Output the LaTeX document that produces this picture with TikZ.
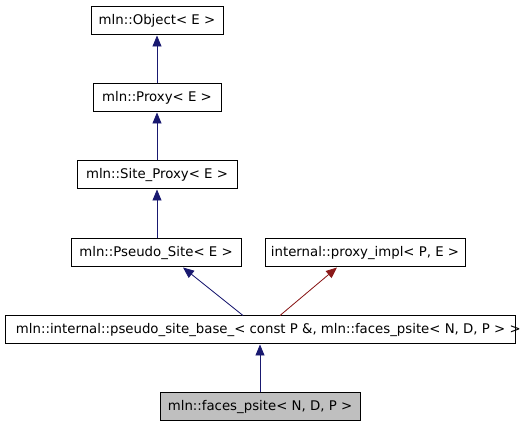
\documentclass[tikz,border=0pt]{standalone}
\usepackage{fontspec}
\setmainfont{DejaVu Sans}
\usetikzlibrary{arrows.meta}
\tikzset{>={Triangle[width=9pt,length=11pt]}}
\definecolor{edgeblue}{HTML}{191970}
\definecolor{edgered}{HTML}{8B1A1A}
\definecolor{boxgray}{HTML}{BFBFBF}
\tikzset{classbox/.style={draw=black, fill=white, line width=1pt,
    minimum height=28pt, inner sep=0pt}}
\tikzset{inherit/.style={->, line width=0.8pt, draw=edgeblue, fill=edgeblue}}
\tikzset{usage/.style={->, line width=0.8pt, draw=edgered, fill=edgered}}

\begin{document}
\begin{tikzpicture}[x=1pt,y=1pt]

\fontsize{13.3}{15}\selectfont
\useasboundingbox (0,0) rectangle (520,427); %% page size

%% class boxes
\node[classbox, minimum width=132pt] (object) at (157,406) {mln::Object< E >};
\node[classbox, minimum width=128pt] (proxy) at (157,329) {mln::Proxy< E >};
\node[classbox, minimum width=160pt] (siteproxy) at (157,252) {mln::Site\_Proxy< E >};
\node[classbox, minimum width=170pt] (pseudosite) at (156,174) {mln::Pseudo\_Site< E >};
\node[classbox, minimum width=200pt] (proxyimpl) at (365,174) {internal::proxy\_impl< P, E >};
\node[classbox, inner xsep=11pt] (base) at (260,97)
{\makebox[488pt][l]{mln::internal::pseudo\_site\_base\_< const P \&, mln::faces\_psite< N, D, P > >}};
\node[classbox, fill=boxgray, minimum width=200pt] (faces) at (260,20) {mln::faces\_psite< N, D, P >};

%% inheritance
\draw[inherit] (proxy) -- (object);
\draw[inherit] (siteproxy) -- (proxy);
\draw[inherit] ([xshift=1pt]pseudosite.north) -- (siteproxy);
\draw[inherit] ([xshift=-17pt]base.north) -- ([xshift=27pt]pseudosite.south);
\draw[usage] ([xshift=20pt]base.north) -- ([xshift=-28pt]proxyimpl.south);
\draw[inherit] (faces) -- (base);

\end{tikzpicture}
\end{document}
